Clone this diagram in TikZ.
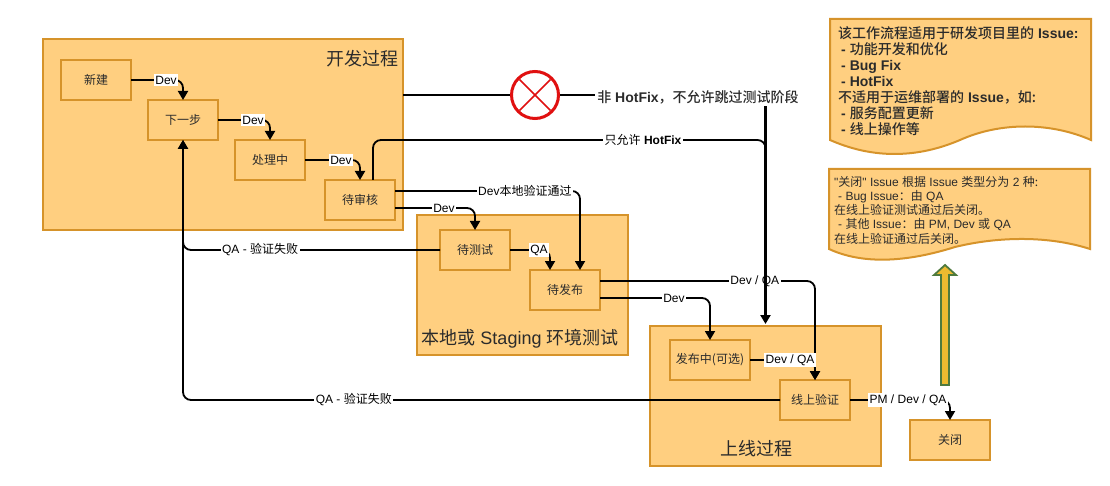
\documentclass[tikz,border=0pt]{standalone}
\usepackage{fontspec}
\setmainfont{Liberation Sans}
\newfontfamily\plainquote{Liberation Sans}
\newfontfamily\cjk[BoldFont = {Noto Sans CJK SC Medium}]{Noto Sans CJK SC}
\newcommand{\zh}[1]{{\cjk #1}}
\usepackage{tikz}
\usetikzlibrary{arrows.meta}

\definecolor{boxfill}{HTML}{FFCF80}
\definecolor{boxline}{HTML}{D6932A}
\definecolor{inktext}{HTML}{2B2B2B}
\definecolor{stopred}{HTML}{E01010}
\definecolor{upfill}{HTML}{EDBB30}
\definecolor{upline}{HTML}{4E7A3E}

\tikzset{
    stepbox/.style = {draw = boxline, fill = boxfill, line width = 2pt, minimum width = 70pt, minimum height = 40pt, inner sep = 0pt, outer sep = 0pt, text = inktext, font = {\fontsize{12}{14}\selectfont}},
    groupbox/.style = {draw = boxline, fill = boxfill, line width = 2pt, inner sep = 0pt, outer sep = 0pt},
    grouptitle/.style = {text = inktext, inner sep = 0pt, font = {\fontsize{18}{20}\selectfont}},
    flowline/.style = {draw = black, line width = 1.8pt, rounded corners = 8pt},
    flowarrow/.style = {flowline, -{Triangle[length = 9pt, width = 10pt]}},
    flowlabel/.style = {fill = white, text = black, sharp corners, inner sep = 1.5pt, font = {\fontsize{12}{14}\selectfont}},
    notebox/.style = {draw = boxline, fill = boxfill, line width = 2pt},
}

\begin{document}
\begin{tikzpicture}[x = 1pt, y = -1pt]
        \useasboundingbox (0, 0) rectangle (1110, 486);

        % the three stages
        \node[groupbox, minimum width = 360pt, minimum height = 191pt] (devgroup) at (223, 135) {};
        \node[grouptitle, anchor = east] (devtitle) at (399, 59) {\zh{开发过程}};

        \node[groupbox, minimum width = 211pt, minimum height = 140pt] (testgroup) at (522.5, 285) {};
        \node[grouptitle] (testtitle) at (520, 339) {\zh{本地或} Staging \zh{环境测试}};

        \node[groupbox, minimum width = 231pt, minimum height = 140pt] (onlinegroup) at (765.5, 396) {};
        \node[grouptitle] (onlinetitle) at (756, 449) {\zh{上线过程}};


        % the steps
        \node[stepbox] (newbox) at (96, 80) {\zh{新建}};
        \node[stepbox] (nextbox) at (183, 120) {\zh{下一步}};
        \node[stepbox] (doingbox) at (270, 160) {\zh{处理中}};
        \node[stepbox] (reviewbox) at (360, 200) {\zh{待审核}};
        \node[stepbox] (testbox) at (475, 250) {\zh{待测试}};
        \node[stepbox] (publishbox) at (565, 290) {\zh{待发布}};
        \node[stepbox, minimum width = 80pt] (releasebox) at (710, 360) {\zh{发布中(可选)}};
        \node[stepbox] (verifybox) at (815, 400) {\zh{线上验证}};
        \node[stepbox, minimum width = 80pt] (closebox) at (950, 440) {\zh{关闭}};


        % notes
        \draw[notebox] (830, 19) -- (1091, 19) -- (1091, 140) .. controls (1050, 122) and (1000, 122) .. (960, 140) .. controls (925, 155) and (880, 162) .. (830, 140) -- cycle;
        \node[anchor = north west, align = left, inner sep = 0pt, text = inktext, font = {\fontsize{14}{16}\selectfont\bfseries}] (scopenote) at (838, 26) {\zh{该工作流程适用于研发项目里的} Issue:\\
            \hspace*{3pt}- \zh{功能开发和优化}\\
            \hspace*{3pt}- Bug Fix\\
            \hspace*{3pt}- HotFix\\
            \zh{不适用于运维部署的} Issue\zh{，如:}\\
            \hspace*{3pt}- \zh{服务配置更新}\\
            \hspace*{3pt}- \zh{线上操作等}};

        \draw[notebox] (829, 169) -- (1090, 169) -- (1090, 249) .. controls (1050, 236) and (1000, 236) .. (955, 247) .. controls (920, 258) and (870, 268) .. (829, 249) -- cycle;
        \node[anchor = north west, align = left, inner sep = 0pt, text = inktext, font = {\fontsize{12}{14.2}\selectfont}] (closenote) at (834, 176) {{\plainquote "}\zh{关闭}{\plainquote "} Issue \zh{根据} Issue \zh{类型分为} 2 \zh{种:}\\
            \hspace*{4pt}- Bug Issue\zh{：由} QA\\
            \zh{在线上验证测试通过后关闭。}\\
            \hspace*{4pt}- \zh{其他} Issue\zh{：由} PM, Dev \zh{或} QA\\
            \zh{在线上验证通过后关闭。}};

        \draw[line width = 1.8pt, draw = upline, fill = upfill] (941, 385) -- (941, 275) -- (934, 275) -- (945, 265) -- (956, 275) -- (949, 275) -- (949, 385) -- cycle;


        % red stop mark
        \node[circle, draw = stopred, fill = white, line width = 3pt, minimum size = 47pt, inner sep = 0pt] (stopmark) at (535, 95) {};
        \draw[draw = stopred, line width = 1.6pt, shorten < = 3pt, shorten > = 3pt] (stopmark.north west) -- (stopmark.south east);
        \draw[draw = stopred, line width = 1.6pt, shorten < = 3pt, shorten > = 3pt] (stopmark.north east) -- (stopmark.south west);
        \node[inner sep = 2pt, text = inktext, font = {\fontsize{14}{16}\selectfont\bfseries}] (nohotfix) at (698, 97) {\zh{非} HotFix\zh{，不允许跳过测试阶段}};


        % connectors
        \draw[flowarrow] (newbox.east) -| node[flowlabel, pos = 0.337] (dev1) {Dev} (nextbox.north);
        \draw[flowarrow] (nextbox.east) -| node[flowlabel, pos = 0.337] (dev2) {Dev} (doingbox.north);
        \draw[flowarrow] (doingbox.east) -| node[flowlabel, pos = 0.327] (dev3) {Dev} (reviewbox.north);

        \draw[flowarrow] ([yshift = 9pt]reviewbox.east) -| node[flowlabel, pos = 0.351] (localok) {Dev\zh{本地验证通过}} ([xshift = 15pt]publishbox.north);
        \draw[flowarrow] ([yshift = -8pt]reviewbox.east) -| node[flowlabel, pos = 0.306] (dev4) {Dev} (testbox.north);
        \draw[flowarrow] (testbox.east) -| node[flowlabel, pos = 0.3625] (qa1) {QA} ([xshift = -15pt]publishbox.north);
        \draw[flowarrow] (testbox.west) -| node[flowlabel, pos = 0.35] (fail1) {QA - \zh{验证失败}} (nextbox.south);

        \draw[flowarrow] ([yshift = 9pt]publishbox.east) -| node[flowlabel, pos = 0.36] (devqa1) {Dev / QA} (verifybox.north);
        \draw[flowarrow] ([yshift = -8pt]publishbox.east) -| node[flowlabel, pos = 0.336] (dev5) {Dev} (releasebox.north);
        \draw[flowarrow] (releasebox.east) -| node[flowlabel, pos = 0.308] (devqa2) {Dev / QA} (verifybox.north);
        \draw[flowarrow] (verifybox.west) -| node[flowlabel, pos = 0.357] (fail2) {QA - \zh{验证失败}} (nextbox.south);
        \draw[flowarrow] (verifybox.east) -| node[flowlabel, pos = 0.29] (pmdevqa) {PM / Dev / QA} (closebox.north);

        \draw[flowline] (stopmark.west -| devgroup.east) -- (stopmark.west);
        \draw[flowline] (stopmark.east) -- (stopmark.east -| nohotfix.west);

        \coordinate (hotjoint) at (765.5, 140);
        \draw[flowarrow, line width = 2.2pt, shorten > = 2pt] (nohotfix.south -| hotjoint) -- (onlinegroup.north);
        \draw[flowline] ([xshift = 13pt]reviewbox.north) |- node[flowlabel, pos = 0.844] (onlyhotfix) {\zh{只允许} \textbf{HotFix}} (hotjoint) -- ([yshift = -14pt]hotjoint);
    \end{tikzpicture}
\end{document}
